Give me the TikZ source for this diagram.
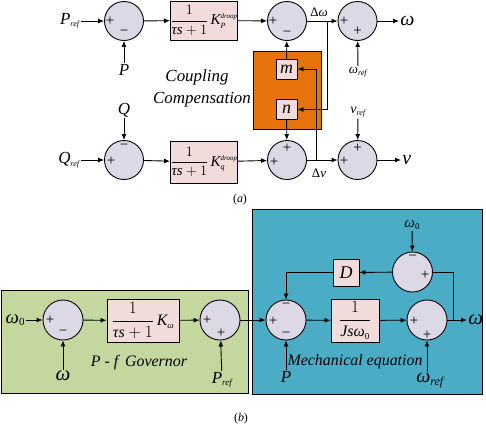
\documentclass[tikz,border=0pt]{standalone}
\usepackage{amsmath}
\usepackage{fontspec}
\setmainfont{Liberation Serif}
\usetikzlibrary{arrows.meta}
\definecolor{sumfill}{HTML}{DDD8E6}
\definecolor{blkfill}{HTML}{F2DCDB}
\definecolor{orng}{HTML}{E8720C}
\definecolor{grn}{HTML}{C4D79E}
\definecolor{blu}{HTML}{4BACC6}
\newcommand{\fs}[1]{\fontsize{#1}{#1}\selectfont}
\newcommand{\rsub}[3]{\ensuremath{\textit{#1}_{\mbox{\fs{#3}\itshape #2}}}}
\newcommand{\kdroop}[1]{\ensuremath{\textit{K}^{\mbox{\fs{7}\itshape droop}}_{\mbox{\fs{8}\itshape #1}}}}
\begin{document}
\begin{tikzpicture}[x=1bp,y=-1bp,line width=0.9bp,>={Latex[length=6bp,width=5bp]},
  sumc/.style={circle,draw,fill=sumfill,minimum size=39bp,inner sep=0pt},
  blk/.style={draw,fill=blkfill,inner sep=0pt},
  lbl/.style={inner sep=1bp,font=\fs{17}\itshape},
  sgn/.style={inner sep=0pt,font=\fs{15}},
  txt/.style={inner sep=0pt,font=\fs{17}\itshape}]
\useasboundingbox (0,0) rectangle (486,428);
% ---------- (a) ----------
\node[draw,fill=orng,minimum width=68bp,minimum height=78bp,inner sep=0pt] (comp) at (287,90) {};
\node[sumc] (s1) at (124,21) {};
\node[blk,minimum width=66bp,minimum height=39bp] (b1) at (204,20.5) {\fs{15}$\dfrac{1}{\textit{τs}+1}\,\kdroop{P}$};
\node[sumc] (s2) at (287,21) {};
\node[sumc] (s3) at (357.5,21) {};
\node[blk,minimum width=21bp,minimum height=20bp,font=\fs{18}\itshape] (m) at (286.5,69) {m};
\node[blk,minimum width=21bp,minimum height=20bp,font=\fs{18}\itshape] (n) at (286.5,109.5) {n};
\node[sumc] (t1) at (124,160) {};
\node[blk,minimum width=66bp,minimum height=42bp] (b2) at (204,162) {\fs{15}$\dfrac{1}{\textit{τs}+1}\,\kdroop{q}$};
\node[sumc] (t2) at (287,160) {};
\node[sumc] (t3) at (357.5,160) {};
% signs
\node[sgn] at (110,21) {+}; \node[sgn] at (124,33) {−};
\node[sgn] at (273,21) {+}; \node[sgn] at (287,34) {−};
\node[sgn] at (344,21) {+}; \node[sgn] at (357.5,31) {+};
\node[sgn] at (124,147) {−}; \node[sgn] at (111,161) {+};
\node[sgn] at (287,148) {+}; \node[sgn] at (274,162) {+};
\node[sgn] at (357.5,148) {+}; \node[sgn] at (344,161) {+};
% labels
\node[lbl,anchor=east] (pref) at (81,21) {\rsub{P}{ref}{8}};
\node[lbl] (pin) at (124,70) {P};
\node[lbl,font=\fs{13}\itshape] (wref) at (358,72) {\rsub{ω}{ref}{8}};
\node[lbl,anchor=west,font=\fs{20}\itshape] (wout) at (399,21) {ω};
\node[lbl] (qin) at (124,110) {Q};
\node[lbl,anchor=east] (qref) at (81,160) {\rsub{Q}{ref}{8}};
\node[lbl,font=\fs{14}\itshape] (vref) at (358,112) {\rsub{v}{ref}{8}};
\node[lbl,anchor=west,font=\fs{20}\itshape] (vout) at (401,160) {v};
\node[inner sep=0pt,font=\fs{13}] at (319,12) {Δ\textit{ω}};
\node[inner sep=0pt,font=\fs{13}] at (319,173) {Δ\textit{v}};
\node[txt] at (197,77) {Coupling};
\node[txt] at (202,100) {Compensation};
\node[inner sep=0pt,font=\fs{12}] at (240,200) {(\textit{a})};
% connectors
\coordinate (dw) at (327,21);
\coordinate (dv) at (316,160);
\draw[->] (pref) -- (s1);
\draw[->] (pin) -- (s1);
\draw[->] (s1) -- (b1);
\draw[->] (b1) -- (s2);
\draw[->] (s2) -- (s3);
\draw[->] (s3) -- (wout);
\draw[->] (wref) -- (s3);
\draw[->] (m) -- (s2);
\draw[->] (dw) |- (n.east);
\draw[->] (dv) |- (m.east);
\draw[->] (n) -- (t2);
\draw[->] (qin) -- (t1);
\draw[->] (qref) -- (t1);
\draw[->] (t1) -- (b2);
\draw[->] (b2) -- (t2);
\draw[->] (t2) -- (t3);
\draw[->] (t3) -- (vout);
\draw[->] (vref) -- (t3);
% ---------- (b) ----------
\node[draw,fill=grn,minimum width=247bp,minimum height=103bp,inner sep=0pt] (gov) at (124.5,341.5) {};
\node[draw,fill=blu,minimum width=230bp,minimum height=185bp,inner sep=0pt] (mech) at (367,301.5) {};
\node[sumc,minimum size=40bp] (gA) at (63,320) {};
\node[blk,minimum width=72bp,minimum height=43bp] (gk) at (143,320.5) {\fs{16}$\dfrac{1}{\textit{τs}+1}\,\textit{K}_{\mbox{\fs{9}\itshape ω}}$};
\node[sumc,minimum size=40bp] (gB) at (220,320) {};
\node[sumc,minimum size=40bp] (mC) at (286,320) {};
\node[blk,minimum width=48bp,minimum height=43bp] (jb) at (355,320.5) {\fs{16}$\dfrac{1}{\textit{Jsω}_{\mbox{\fs{9}0}}}$};
\node[sumc,minimum size=40bp] (mE) at (427,320) {};
\node[sumc,minimum size=40bp] (mD) at (412.5,272) {};
\node[blk,minimum width=26bp,minimum height=27bp,font=\fs{18}\itshape] (Db) at (346,272.5) {D};
% signs
\node[sgn] at (50,320) {+}; \node[sgn] at (63,333) {−};
\node[sgn] at (207,320) {+}; \node[sgn] at (221,333) {+};
\node[sgn] at (273,321) {+}; \node[sgn] at (286,306) {−}; \node[sgn] at (286,335) {−};
\node[sgn] at (414,321) {+}; \node[sgn] at (427,335) {+};
\node[sgn] at (412.5,258) {−}; \node[sgn] at (425,275) {+};
% labels
\node[lbl,anchor=east,font=\fs{19}\itshape] (w0) at (26,320) {ω\textup{\fs{11}\raisebox{-0.5ex}{0}}};
\node[lbl,font=\fs{21}\itshape] (wb) at (63,376) {ω};
\node[lbl] (prefb) at (222,380) {\rsub{P}{ref}{9}};
\node[txt,font=\fs{16}\itshape] at (139,363) {P - f\, Governor};
\node[lbl,font=\fs{15}\itshape] (w0b) at (412,225) {ω\textup{\fs{9}\raisebox{-0.5ex}{0}}};
\node[lbl] (pb) at (286,377) {P};
\node[lbl,font=\fs{20}\itshape] (wrefb) at (430,381) {\rsub{ω}{ref}{12}};
\node[lbl,anchor=west,font=\fs{21}\itshape] (woutb) at (467,320) {ω};
\node[txt,font=\fs{16}\itshape] at (355,362) {Mechanical equation};
\node[inner sep=0pt,font=\fs{12}] at (241,419) {(\textit{b})};
% connectors
\coordinate (br) at (453,320);
\draw[->] (w0) -- (gA);
\draw[->] (wb) -- (gA);
\draw[->] (gA) -- (gk);
\draw[->] (gk) -- (gB);
\draw[->] (prefb) -- (gB);
\draw[->] (gB) -- (mC);
\draw[->] (mC) -- (jb);
\draw[->] (jb) -- (mE);
\draw[->] (mE) -- (woutb);
\draw (br) |- (mD.east);
\draw[->] (w0b) -- (mD);
\draw[->] (mD) -- (Db);
\draw[->] (Db.west) -| (mC.north);
\draw[->] (pb) -- (mC);
\draw[->] (wrefb.north -| mE) -- (mE);
\end{tikzpicture}
\end{document}
